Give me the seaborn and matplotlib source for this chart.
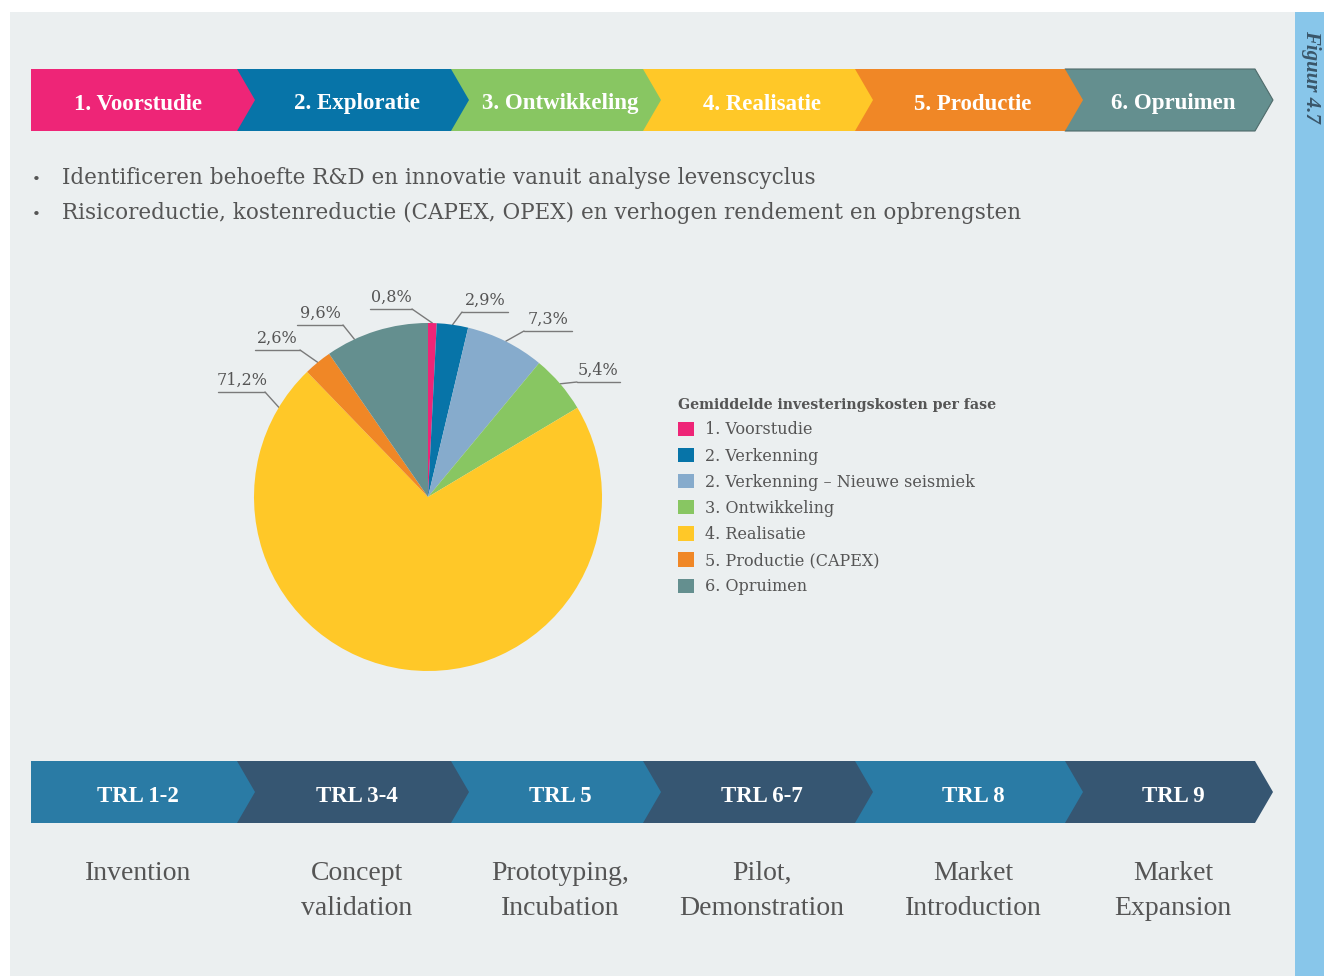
import numpy as np
import matplotlib
matplotlib.use("Agg")
import matplotlib.pyplot as plt
from matplotlib.patches import Polygon, Rectangle
import seaborn as sns

# ============================================================
# DATA
# ============================================================

phase_labels = ["1. Voorstudie", "2. Exploratie", "3. Ontwikkeling",
                "4. Realisatie", "5. Productie", "6. Opruimen"]
phase_colors = ["#EE2577", "#0774A8", "#88C662", "#FFC828", "#F08726", "#648F8F"]

bullets = [
    "Identificeren behoefte R&D en innovatie vanuit analyse levenscyclus",
    "Risicoreductie, kostenreductie (CAPEX, OPEX) en verhogen rendement en opbrengsten",
]

cost_labels = ["1. Voorstudie", "2. Verkenning", "2. Verkenning \u2013 Nieuwe seismiek",
               "3. Ontwikkeling", "4. Realisatie", "5. Productie (CAPEX)", "6. Opruimen"]
cost_shares = [0.8, 2.9, 7.3, 5.4, 71.2, 2.6, 9.6]
cost_colors = ["#EE2577", "#0774A8", "#86ABCC", "#88C662", "#FFC828", "#F08726", "#648F8F"]
legend_title = "Gemiddelde investeringskosten per fase"

trl_labels = ["TRL 1-2", "TRL 3-4", "TRL 5", "TRL 6-7", "TRL 8", "TRL 9"]
trl_colors = ["#2A7BA5", "#365672", "#2A7BA5", "#365672", "#2A7BA5", "#365672"]
trl_descriptions = ["Invention", "Concept\nvalidation", "Prototyping,\nIncubation",
                    "Pilot,\nDemonstration", "Market\nIntroduction", "Market\nExpansion"]

figure_label = "Figuur 4.7"

# ============================================================
# LAYOUT (pixels)
# ============================================================

W, H = 1324, 976
SEG_X0 = [31, 237, 451, 643, 855, 1065]
SEG_X1 = [237, 451, 643, 855, 1065, 1255]
TIP = 18
TOP_ROW = (69, 131)
BOTTOM_ROW = (761, 823)

PIE_CX, PIE_CY, PIE_R = 428, 497, 174

# label anchor: (text centre x, underline y, underline left, underline right, leader side)
label_layout = [
    (391, 309, 370, 412, "right"),
    (485, 312, 462, 508, "left"),
    (548, 331, 524, 572, "left"),
    (598, 382, 577, 620, "left"),
    (242, 392, 218, 265, "right"),
    (277, 350, 255, 300, "right"),
    (320, 325, 297, 343, "right"),
]
leader_angle_override = {4: 149, 6: 115}

TEXT_GREY = "#555555"
BG = "#EBEFF0"

sns.set_style("white")
plt.rcParams["font.family"] = ["DejaVu Serif"]
COND = ["Liberation Serif", "DejaVu Serif"]

fig = plt.figure(figsize=(W / 100, H / 100), dpi=100)
fig.patch.set_facecolor("white")

ax = fig.add_axes([0, 0, 1, 1])
ax.set_xlim(0, W)
ax.set_ylim(H, 0)
ax.axis("off")

ax.add_patch(Rectangle((10, 12), W - 10, H - 12, facecolor=BG, edgecolor="none", zorder=0))
ax.add_patch(Rectangle((1295, 12), W - 1295, H - 12, facecolor="#88C6EA", edgecolor="none", zorder=1))
ax.text(1311, 30, figure_label, rotation=-90, ha="center", va="top", fontsize=15,
        fontweight="bold", fontstyle="italic", color="#3A566A", family=COND, zorder=2)


def chevron_row(y0, y1, colors, labels, fontsize):
    ym = (y0 + y1) / 2
    for i in reversed(range(len(labels))):
        x0, x1 = SEG_X0[i], SEG_X1[i]
        pts = [(x0, y0), (x1, y0), (x1 + TIP, ym), (x1, y1), (x0, y1)]
        edge = "#4F6B6B" if (colors[i] == "#648F8F") else "none"
        ax.add_patch(Polygon(pts, closed=True, facecolor=colors[i], edgecolor=edge,
                             linewidth=0.8, zorder=3 + (len(labels) - i) * 0.01))
    centres = []
    for i, lab in enumerate(labels):
        left = SEG_X0[i] + (TIP if i > 0 else 0)
        cx = (left + SEG_X1[i]) / 2 + 4
        centres.append(cx)
        ax.text(cx, ym + 4, lab, ha="center", va="center", color="white",
                fontsize=fontsize, fontweight="bold", family=COND, zorder=5)
    return centres


chevron_row(*TOP_ROW, phase_colors, phase_labels, 16.5)
trl_centres = chevron_row(*BOTTOM_ROW, trl_colors, trl_labels, 16.5)

for i, b in enumerate(bullets):
    y = 178 + i * 35
    ax.text(36, y + 2, "\u2022", ha="center", va="center", fontsize=11, color=TEXT_GREY)
    ax.text(62, y, b, ha="left", va="center", fontsize=15.5, color=TEXT_GREY)

for cx, desc in zip(trl_centres, trl_descriptions):
    ax.text(cx, 861, desc, ha="center", va="top", fontsize=20, color=TEXT_GREY,
            family=COND, linespacing=1.52)

# ============================================================
# PIE
# ============================================================

pie_ax = fig.add_axes([(PIE_CX - PIE_R) / W, (H - PIE_CY - PIE_R) / H,
                       2 * PIE_R / W, 2 * PIE_R / H])
wedges, _ = pie_ax.pie(cost_shares, colors=sns.color_palette(cost_colors),
                       startangle=90, counterclock=False, radius=1,
                       wedgeprops=dict(linewidth=0))
pie_ax.set_xlim(-1, 1)
pie_ax.set_ylim(-1, 1)
pie_ax.set_aspect("equal")
pie_ax.axis("off")

for i, (w, share) in enumerate(zip(wedges, cost_shares)):
    theta = leader_angle_override.get(i, (w.theta1 + w.theta2) / 2)
    ex = PIE_CX + PIE_R * np.cos(np.radians(theta))
    ey = PIE_CY - PIE_R * np.sin(np.radians(theta))
    tx, ly, lx0, lx1, side = label_layout[i]
    jx = lx1 if side == "right" else lx0
    ax.plot([lx0, lx1], [ly, ly], color="#7A7A7A", lw=1.0, zorder=2)
    ax.plot([jx, ex], [ly, ey], color="#7A7A7A", lw=1.0, zorder=2)
    txt = f"{share:.1f}".replace(".", ",") + "%"
    ax.text(tx, ly - 3, txt, ha="center", va="bottom", fontsize=11.5, color=TEXT_GREY, zorder=2)

leg = fig.legend(wedges, cost_labels, title=legend_title, loc="upper left",
                 bbox_to_anchor=(672 / W, 1 - 392 / H), frameon=False,
                 fontsize=11.5, handlelength=1.0, handleheight=1.0, handletextpad=0.65,
                 labelspacing=0.57, borderaxespad=0)
leg.get_title().set_fontweight("bold")
leg.get_title().set_fontsize(10.2)
leg.get_title().set_color(TEXT_GREY)
leg._legend_box.align = "left"
for t in leg.get_texts():
    t.set_color(TEXT_GREY)

fig.savefig("out.png", dpi=100, facecolor=fig.get_facecolor())
